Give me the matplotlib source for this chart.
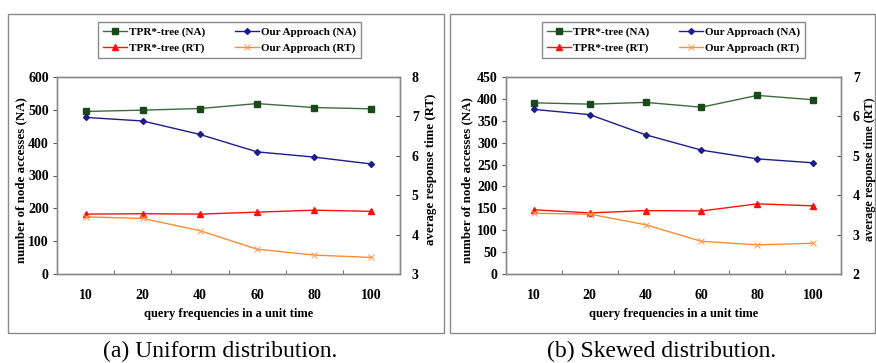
import matplotlib
matplotlib.use('Agg')
import matplotlib.pyplot as plt
from matplotlib.patches import Rectangle

W, H = 876, 363

freqs = ['10', '20', '40', '60', '80', '100']

# (a) uniform
uni_tpr_na = [495, 499, 504, 519, 507, 503]
uni_our_na = [477, 466, 425, 372, 356, 335]
uni_tpr_rt = [4.52, 4.53, 4.52, 4.57, 4.62, 4.59]
uni_our_rt = [4.45, 4.41, 4.10, 3.63, 3.48, 3.42]

# (b) skewed
skw_tpr_na = [391, 388, 392, 381, 408, 398]
skw_our_na = [376, 364, 318, 283, 263, 254]
skw_tpr_rt = [3.63, 3.55, 3.61, 3.60, 3.78, 3.73]
skw_our_rt = [3.54, 3.52, 3.25, 2.83, 2.74, 2.78]

captions = ['(a) Uniform distribution.', '(b) Skewed distribution.']

SERIF = ['Liberation Serif', 'DejaVu Serif']
plt.rcParams['font.family'] = SERIF

GREEN_L, GREEN_M = '#3d6b3d', '#1a4a1a'
BLUE = '#1c1c8c'
RED = '#ff1010'
ORANGE = '#ff8c33'
GRAY = '#8a8a8a'


def rect(x0, y0, x1, y1):
    return [x0 / W, 1 - y1 / H, (x1 - x0) / W, (y1 - y0) / H]


fig = plt.figure(figsize=(W / 100, H / 100), dpi=100)

panels = [
    dict(frame=(8, 14, 444, 333), area=(57, 77, 400, 274), leg=(229.5, 40),
         na=(0, 600, 100), rt=(3, 8, 1), data=(uni_tpr_na, uni_our_na, uni_tpr_rt, uni_our_rt),
         cap_x=220, ylab_x=21, rlab_x=431, rlab_fs=9.3),
    dict(frame=(450, 14, 875, 333), area=(506, 77, 841, 274), leg=(673.5, 40),
         na=(0, 450, 50), rt=(2, 7, 1), data=(skw_tpr_na, skw_our_na, skw_tpr_rt, skw_our_rt),
         cap_x=662, ylab_x=467, rlab_x=869.5, rlab_fs=8.8),
]

for i, p in enumerate(panels):
    fx0, fy0, fx1, fy1 = p['frame']
    fig.patches.append(Rectangle((fx0 / W, 1 - fy1 / H), (fx1 - fx0) / W, (fy1 - fy0) / H,
                                 transform=fig.transFigure, fill=False, edgecolor=GRAY, lw=1))

    ax = fig.add_axes(rect(*p['area']))
    ax2 = ax.twinx()
    tna, ona, trt, ort = p['data']
    x = list(range(len(freqs)))

    h1, = ax.plot(x, tna, '-', color=GREEN_L, lw=1, marker='s', ms=4.5,
                  mfc=GREEN_M, mec=GREEN_M, label='TPR*-tree (NA)')
    h2, = ax.plot(x, ona, '-', color=BLUE, lw=1, marker='D', ms=3,
                  mfc=BLUE, mec=BLUE, label='Our Approach (NA)')
    h3, = ax2.plot(x, trt, '-', color=RED, lw=1, marker='^', ms=5,
                   mfc=RED, mec=RED, label='TPR*-tree (RT)')
    h4, = ax2.plot(x, ort, '-', color=ORANGE, lw=1, marker='x', ms=5,
                   mew=0.8, mec='#ffa060', label='Our Approach (RT)')

    ax.set_xlim(-0.5, len(freqs) - 0.5)
    lo, hi, st = p['na']
    ax.set_ylim(lo, hi)
    ax.set_yticks(range(lo, hi + 1, st))
    rlo, rhi, rst = p['rt']
    ax2.set_ylim(rlo, rhi)
    ax2.set_yticks(range(rlo, rhi + 1, rst))

    ax.set_xticks(x)
    ax.set_xticklabels(freqs)
    ax.set_xticks([k + 0.5 for k in x[:-1]], minor=True)
    ax.tick_params(axis='x', which='major', length=0, pad=11)
    ax.tick_params(axis='x', which='minor', direction='in', length=3, color='#555555')
    ax.tick_params(axis='y', direction='out', length=3, color='#555555', pad=3)
    ax2.tick_params(axis='y', direction='in', length=3, color='#555555', pad=8.5)

    for lab in ax.get_xticklabels() + ax.get_yticklabels() + ax2.get_yticklabels():
        lab.set_fontweight('bold')
        lab.set_fontsize(10)

    for a in (ax, ax2):
        for s in a.spines.values():
            s.set_color(GRAY)
            s.set_linewidth(1)

    ax.set_xlabel('query frequencies in a unit time', fontsize=9, fontweight='bold', labelpad=4)

    fig.text(p['ylab_x'] / W, 1 - 180 / H, 'number of node accesses (NA)',
             rotation=90, ha='center', va='center', fontsize=9.3, fontweight='bold')
    fig.text(p['rlab_x'] / W, 1 - 169 / H, 'average response time (RT)',
             rotation=90, ha='center', va='center', fontsize=p['rlab_fs'], fontweight='bold')

    lx, ly = p['leg']
    leg = ax.legend([h1, h3, h2, h4], [h.get_label() for h in (h1, h3, h2, h4)],
                    ncol=2, loc='center', bbox_to_anchor=(lx / W, 1 - ly / H),
                    bbox_transform=fig.transFigure, fancybox=False, framealpha=1,
                    edgecolor=GRAY, handlelength=2.2, handletextpad=0.2,
                    columnspacing=2.6, labelspacing=0.6, borderpad=0.4,
                    prop={'family': SERIF, 'weight': 'bold', 'size': 8})
    leg.get_frame().set_linewidth(1)

    fig.text(p['cap_x'] / W, 1 - 351 / H, captions[i], ha='center', va='center',
             fontsize=17)

fig.savefig('out.png', dpi=100)
